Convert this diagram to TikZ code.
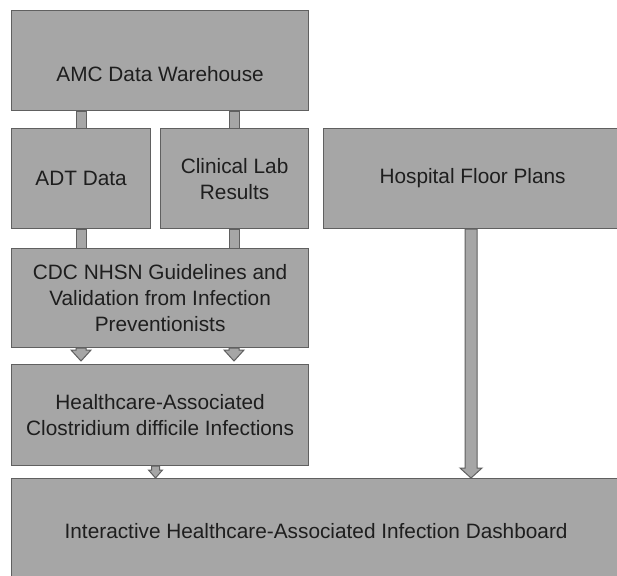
\documentclass[tikz,border=0pt]{standalone}
\usepackage{fontspec}
\setmainfont{Liberation Sans}
\usetikzlibrary{calc}
\definecolor{boxfill}{HTML}{A6A6A6}
\definecolor{boxline}{HTML}{606060}
\definecolor{txt}{HTML}{1E1E1E}
\newcommand{\dnarrow}[5]{%
  \path[conn] let \p1=#1, \p2=#2 in
    (\x1-#3,\y1) -- (\x1+#3,\y1) -- (\x1+#3,\y2+#5) -- (\x1+#4,\y2+#5) --
    (\x1,\y2) -- (\x1-#4,\y2+#5) -- (\x1-#3,\y2+#5) -- cycle;}
\tikzset{
  boxfont/.style={font=\fontsize{20.8}{26}\selectfont},
  box/.style={draw=boxline, fill=boxfill, line width=1.2pt, anchor=north west,
    inner sep=0pt, align=center, text=txt, boxfont},
  conn/.style={draw=boxline, fill=boxfill, line width=1pt},
}
\begin{document}
\begin{tikzpicture}[x=1pt, y={(0,-1pt)}]
\clip (0,0) rectangle (617,575);
\path[fill=white] (0,0) rectangle (617,575);
% boxes
\node[box, minimum width=297pt, minimum height=100pt,
  label={[text=txt, boxfont, yshift=-13pt]center:AMC Data Warehouse}]
  (amc) at (11,10) {};
\node[box, minimum width=139pt, minimum height=100pt] (adt) at (11,128) {ADT Data};
\node[box, minimum width=148pt, minimum height=100pt] (lab) at (160,128) {Clinical Lab\\Results};
\node[box, minimum width=298pt, minimum height=100pt] (floor) at (323,128) {Hospital Floor Plans};
\node[box, minimum width=297pt, minimum height=99pt] (cdc) at (11,248)
  {CDC NHSN Guidelines and\\Validation from Infection\\Preventionists};
\node[box, minimum width=297pt, minimum height=101pt] (hai) at (11,364)
  {Healthcare-Associated\\Clostridium difficile Infections};
\node[box, minimum width=609pt, minimum height=104pt] (dash) at (11,478)
  {Interactive Healthcare-Associated Infection Dashboard};
% connector bars
\path[conn] ($(amc.south west)+(65,0)$) rectangle ($(adt.north west)+(75,0)$);
\path[conn] ($(amc.south west)+(218,0)$) rectangle ($(lab.north west)+(79,0)$);
\path[conn] ($(adt.south west)+(65,0)$) rectangle ($(cdc.north west)+(75,0)$);
\path[conn] ($(lab.south west)+(69,0)$) rectangle ($(cdc.north west)+(228,0)$);
% block arrows
\coordinate (c1t) at ($(cdc.south west)+(70,0)$);
\coordinate (c1b) at ($(hai.north west)+(70,-3)$);
\coordinate (c2t) at ($(cdc.south west)+(223,0)$);
\coordinate (c2b) at ($(hai.north west)+(223,-3)$);
\coordinate (h1t) at ($(hai.south west)+(144.5,0)$);
\coordinate (h1b) at ($(dash.north west)+(144.5,0)$);
\coordinate (f1t) at ($(floor.south west)+(148,0)$);
\coordinate (f1b) at ($(dash.north west)+(460,0)$);
\dnarrow{(c1t)}{(c1b)}{5pt}{10pt}{11pt}
\dnarrow{(c2t)}{(c2b)}{5pt}{10pt}{11pt}
\dnarrow{(h1t)}{(h1b)}{4pt}{7pt}{8pt}
\dnarrow{(f1t)}{(f1b)}{6pt}{11pt}{10pt}
\end{tikzpicture}
\end{document}
